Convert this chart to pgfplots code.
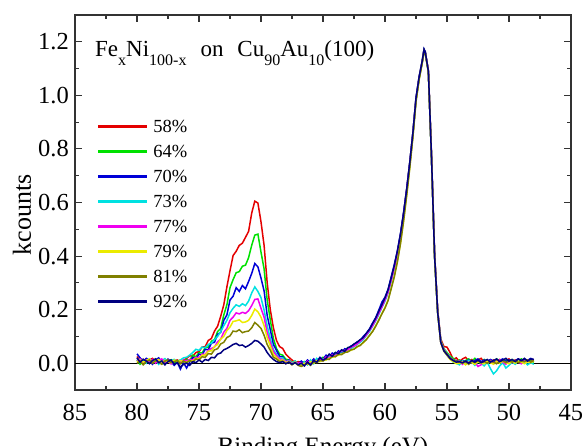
\documentclass[border=0pt]{standalone}
\usepackage{fontspec}
\setmainfont{Liberation Serif}
\usepackage{pgfplots}
\pgfplotsset{compat=1.18}
\usepackage{pgfplotstable}

\definecolor{cR}{RGB}{228,0,0}
\definecolor{cG}{RGB}{0,225,0}
\definecolor{cB}{RGB}{0,0,215}
\definecolor{cC}{RGB}{0,225,225}
\definecolor{cM}{RGB}{240,0,240}
\definecolor{cY}{RGB}{235,235,0}
\definecolor{cO}{RGB}{128,128,0}
\definecolor{cN}{RGB}{0,0,128}

\pgfplotstableread{
E R G B C M Y O N
80 .025 .012 .035 .018 .010 .005 .000 .020
79.75 .010 -.004 .020 .008 .016 .012 .008 .004
79.5 .015 .008 .006 .014 .002 .004 -.006 .014
79.25 .004 .015 .018 .000 .012 .010 .006 .008
79 .012 .002 .010 .016 .006 .016 .012 -.002
78.75 .018 .010 -.004 .006 .014 .002 .000 .010
78.5 .006 .016 .012 .012 .000 .008 .010 .016
78.25 .010 .004 .020 -.004 .010 .014 .004 .002
78 .002 -.002 .004 .010 .016 .000 -.004 .008
77.75 .008 .009 .000 .017 .004 .011 .008 -.006
77.5 .014 .005 .015 .004 .008 .006 .012 .006
77.25 .003 .013 .006 .010 -.003 .002 .002 .012
77 .009 .000 -.008 .014 .010 .012 .006 -.004
76.75 .012 .007 .004 .002 .006 .004 .010 .002
76.5 .006 .012 -.022 .012 .004 .010 -.002 -.015
76.25 .011 .004 .002 .020 .012 .006 .008 -.004
76 .018 .014 -.018 .022 .008 .004 .002 .000
75.75 .028 .010 .004 .030 .014 .010 .010 -.008
75.5 .026 .030 .022 .040 .012 .008 .004 .006
75.25 .040 .024 .016 .052 .022 .018 .016 .002
75 .043 .040 .034 .048 .020 .016 .012 .012
74.75 .060 .038 .030 .060 .034 .030 .024 .004
74.5 .062 .058 .052 .058 .033 .030 .022 .014
74.25 .085 .060 .050 .070 .048 .045 .036 .010
74 .092 .082 .075 .075 .055 .046 .034 .022
73.75 .120 .088 .078 .088 .060 .062 .050 .020
73.5 .138 .118 .108 .100 .080 .070 .054 .034
73.25 .175 .130 .115 .118 .090 .090 .072 .038
73 .218 .180 .160 .140 .116 .100 .078 .050
72.75 .285 .218 .180 .160 .130 .122 .096 .055
72.5 .345 .282 .236 .188 .160 .135 .102 .062
72.25 .402 .312 .250 .205 .172 .156 .120 .070
72 .418 .338 .282 .218 .188 .158 .118 .074
71.75 .440 .342 .268 .212 .184 .162 .125 .066
71.5 .448 .362 .290 .222 .190 .152 .114 .068
71.25 .470 .366 .278 .215 .186 .154 .118 .060
71 .492 .394 .305 .232 .196 .160 .120 .066
70.75 .560 .440 .335 .262 .215 .178 .132 .074
70.5 .605 .478 .372 .285 .238 .202 .152 .085
70.25 .598 .482 .360 .268 .240 .192 .142 .082
70 .528 .415 .318 .245 .205 .172 .130 .072
69.75 .440 .352 .270 .198 .172 .140 .104 .060
69.5 .300 .236 .178 .140 .115 .095 .070 .040
69.25 .200 .162 .125 .092 .078 .064 .048 .025
69 .132 .092 .070 .050 .044 .032 .022 .014
68.75 .085 .055 .048 .034 .028 .022 .016 .006
68.5 .062 .034 .025 .018 .016 .010 .006 .002
68.25 .055 .030 .024 .020 .014 .012 .008 .006
68 .034 .015 .008 .006 .006 .002 -.002 -.002
67.75 .022 .012 .012 .010 .008 .006 .004 .004
67.5 .012 .002 -.004 .000 -.002 -.004 -.006 -.004
67.25 .002 .008 .006 .008 .004 .004 .002 .002
67 .006 -.002 -.002 -.004 .000 -.006 -.008 -.006
66.75 .004 -.006 .008 -.010 .002 -.008 -.012 .000
66.5 -.004 .006 -.002 .004 -.008 .000 -.006 -.010
66.25 .010 -.002 .012 -.006 .008 -.004 .000 .004
66 .000 .010 .002 .012 -.004 .006 -.008 -.006
65.75 .012 .004 .016 -.002 .010 .000 .004 .010
65.5 .006 .016 .004 .018 .008 .010 .002 .004
65.25 .018 .010 .022 .008 .016 .006 .010 .020
65 .012 .022 .014 .016 .010 .014 .008 .012
64.75 .026 .018 .030 .014 .024 .012 .016 .018
64.5 .020 .030 .022 .028 .020 .018 .014 .034
64.25 .034 .028 .038 .024 .032 .022 .026 .026
64 .030 .040 .032 .036 .028 .026 .024 .040
63.75 .042 .036 .046 .034 .040 .030 .034 .036
63.5 .040 .048 .038 .044 .046 .034 .032 .050
63.25 .050 .046 .054 .042 .048 .040 .040 .044
63 .054 .058 .050 .056 .050 .044 .042 .058
62.75 .060 .056 .064 .054 .060 .048 .050 .062
62.5 .066 .070 .068 .062 .064 .054 .052 .072
62.25 .074 .076 .080 .070 .072 .060 .062 .078
62 .082 .086 .084 .078 .082 .068 .066 .088
61.75 .094 .092 .100 .088 .092 .076 .078 .096
61.5 .106 .110 .112 .104 .106 .090 .088 .112
61.25 .122 .126 .128 .118 .122 .102 .104 .126
61 .142 .144 .150 .138 .140 .120 .118 .148
60.75 .162 .166 .170 .158 .162 .140 .138 .168
60.5 .188 .190 .198 .182 .186 .162 .160 .194
60.25 .212 .216 .228 .208 .210 .186 .184 .218
60 .238 .242 .246 .232 .236 .208 .206 .244
59.75 .268 .272 .276 .262 .266 .236 .234 .274
59.5 .312 .316 .322 .306 .310 .280 .278 .318
59.25 .356 .360 .368 .352 .356 .325 .322 .364
59 .410 .414 .420 .406 .410 .380 .378 .418
58.75 .476 .478 .484 .472 .476 .448 .446 .482
58.5 .556 .558 .562 .552 .556 .532 .530 .560
58.25 .646 .648 .650 .642 .646 .628 .626 .650
58 .746 .748 .750 .742 .746 .732 .730 .750
57.75 .856 .858 .860 .852 .856 .846 .844 .860
57.5 .984 .986 .990 .982 .985 .978 .976 .990
57.25 1.064 1.066 1.068 1.062 1.065 1.060 1.058 1.068
57 1.124 1.126 1.128 1.122 1.125 1.122 1.120 1.128
56.85 1.168 1.170 1.172 1.166 1.168 1.166 1.164 1.172
56.75 1.158 1.160 1.162 1.156 1.160 1.158 1.156 1.162
56.5 1.088 1.092 1.090 1.086 1.094 1.088 1.086 1.090
56.25 .772 .776 .770 .768 .780 .770 .768 .772
56 .402 .408 .400 .398 .410 .396 .398 .402
55.75 .196 .194 .190 .188 .196 .186 .188 .190
55.5 .090 .084 .078 .082 .080 .076 .078 .078
55.25 .062 .054 .046 .052 .050 .044 .048 .046
55 .060 .040 .030 .038 .034 .030 .036 .032
54.75 .040 .026 .016 .022 .020 .014 .018 .018
54.5 .014 .018 .008 .004 .012 .006 .010 .010
54.25 .020 .006 .010 .000 .004 -.002 .008 .004
54 .006 .012 .002 -.006 .008 .000 .004 .006
53.75 .016 .004 .010 .008 -.004 .006 .000 .002
53.5 .022 .010 .004 -.002 .006 -.006 .006 .008
53.25 .008 .016 .012 .010 .002 .004 -.004 .000
53 .014 .006 .000 .004 .010 .002 .008 .010
52.75 .004 .018 .010 -.008 .004 -.004 .002 .004
52.5 .012 .008 .016 .006 -.012 .006 .010 .012
52.25 .018 .002 .006 .000 -.006 .000 .002 .002
52 .006 .014 .012 -.010 .008 -.002 .006 .008
51.75 .010 .006 .004 .004 .002 .008 .000 .014
51.5 .002 .012 .014 -.020 .010 .002 .008 .004
51.25 .012 .004 .008 -.040 .000 -.004 .004 .010
51 .008 .016 .000 -.028 .006 .006 -.002 .016
50.75 .014 .008 .010 -.010 .012 .000 .006 .006
50.5 .004 .002 .016 .002 .004 .008 .010 .012
50.25 .010 .012 .006 -.018 -.004 .002 .002 .018
50 .016 .006 .012 -.008 .008 -.002 .008 .008
49.75 .006 .014 .004 .004 .002 .006 .004 .014
49.5 .012 .004 .010 -.004 .010 .000 .010 .006
49.25 .004 .010 .016 .008 .004 .008 .002 .016
49 .010 .016 .008 .000 -.002 .004 .008 .010
48.75 .014 .006 .014 .006 .008 -.002 .006 .018
48.5 .006 .012 .010 -.006 .012 .006 .012 .008
48.25 .010 .008 .018 .002 .004 .002 .004 .016
48 .014 .004 .012 -.004 .010 .008 .010 .014
}\spectra

\begin{document}
\begin{tikzpicture}
\begin{axis}[
  scale only axis, width=496pt, height=375pt,
  x dir=reverse, xmin=45, xmax=85, ymin=-0.1, ymax=1.3,
  xtick={45,50,55,60,65,70,75,80,85},
  ytick={0,0.2,0.4,0.6,0.8,1.0,1.2},
  minor x tick num=1, minor y tick num=1,
  tick align=inside,
  major tick length=7pt, minor tick length=4pt,
  axis line style={line width=1.2pt, black!80},
  every tick/.style={line width=1.1pt, black!80},
  tick label style={font=\fontsize{24.5}{24.5}\selectfont},
  xticklabel={\pgfmathprintnumber[assume math mode=true, fixed, precision=0]{\tick}},
  yticklabel={\pgfmathprintnumber[assume math mode=true, fixed, fixed zerofill, precision=1]{\tick}},
  yticklabel style={inner sep=0pt, xshift=-6pt},
  xticklabel style={inner sep=0pt, yshift=-14pt},
  xlabel={Binding Energy (eV)},
  xlabel style={font=\fontsize{25}{25}\selectfont, at={(axis description cs:0.5,-0.1707)}, anchor=base, inner sep=0pt},
  ylabel={kcounts},
  ylabel style={font=\fontsize{26}{26}\selectfont, at={(axis description cs:-0.107,0.467)}, anchor=center, inner sep=0pt},
  legend style={at={(axis description cs:0.0444,0.72)}, anchor=north west, draw=none, fill=none,
    inner sep=0pt, outer sep=0pt, font=\fontsize{18.5}{18.5}\selectfont,
    nodes={inner sep=0pt, text height=13pt, text depth=0pt}, row sep=12pt, column sep=5pt},
  legend cell align=left,
  legend image code/.code={\path[draw=., line width=2.4pt, #1] (0pt,0pt) -- (49pt,0pt);},
  every axis plot/.append style={line width=1.5pt},
]
\addplot[black, line width=1pt, forget plot] coordinates {(85,0) (45,0)};
\addplot[cR] table[x=E, y=R] {\spectra};
\addplot[cG] table[x=E, y=G] {\spectra};
\addplot[cB] table[x=E, y=B] {\spectra};
\addplot[cC] table[x=E, y=C] {\spectra};
\addplot[cM] table[x=E, y=M] {\spectra};
\addplot[cY] table[x=E, y=Y] {\spectra};
\addplot[cO] table[x=E, y=O] {\spectra};
\addplot[cN] table[x=E, y=N] {\spectra};
\legend{58\%, 64\%, 70\%, 73\%, 77\%, 79\%, 81\%, 92\%}
\node[anchor=base west, inner sep=0pt, font=\fontsize{23}{23}\selectfont] at (axis description cs:0.0403,0.888)
  {Fe\raisebox{-9pt}{\fontsize{16}{16}\selectfont x}Ni\raisebox{-9pt}{\fontsize{16}{16}\selectfont 100-x}\hspace{14pt}on\hspace{14pt}Cu\raisebox{-9pt}{\fontsize{16}{16}\selectfont 90}Au\raisebox{-9pt}{\fontsize{16}{16}\selectfont 10}(100)};
\end{axis}
\pgfresetboundingbox
\path[use as bounding box] (-75pt,-56pt) rectangle (507pt,390pt);
\end{tikzpicture}
\end{document}
